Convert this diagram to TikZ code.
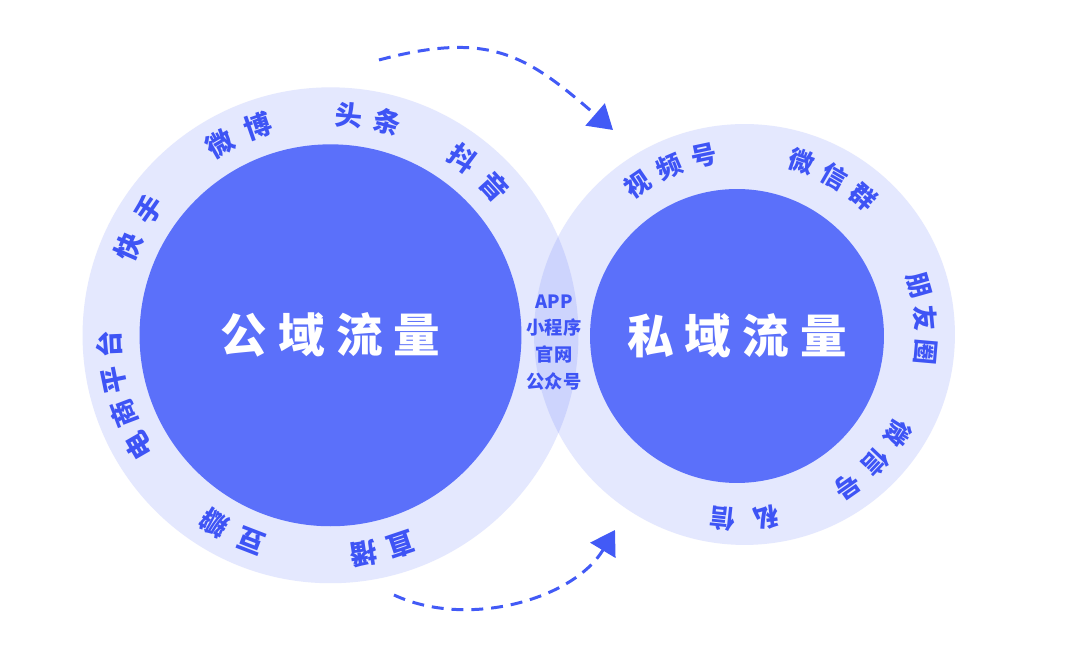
\documentclass[tikz,border=0pt]{standalone}
\usepackage{fontspec}
\setmainfont{Noto Sans CJK SC}
\usepackage{tikz}
\usetikzlibrary{arrows.meta}
\definecolor{FlowBlue}{RGB}{91,112,250}
\definecolor{TagBlue}{RGB}{62,84,245}
\definecolor{ArrowBlue}{RGB}{66,90,246}
\newcommand\wgap{\hspace{0.24em}}

\begin{document}
\begin{tikzpicture}[x=0.02cm,y=0.02cm,
  ring/.style={circle,fill=FlowBlue,fill opacity=0.16,inner sep=0pt,outer sep=0pt},
  core/.style={circle,fill=FlowBlue,inner sep=0pt,outer sep=0pt,
               text=white,font=\fontsize{26.5}{26.5}\selectfont\bfseries},
  tag/.style={text=TagBlue,font=\fontsize{15.5}{15.5}\selectfont\bfseries,inner sep=0pt},
  ptag/.style={tag,font=\fontsize{14.5}{14.5}\selectfont\bfseries},
  lens/.style={text=TagBlue,align=center,font=\fontsize{10.4}{15.3}\selectfont\bfseries,inner sep=0pt},
  flow/.style={ArrowBlue,line width=1.7pt,dash pattern=on 6.8pt off 4.5pt,
               -{Triangle[length=13.5pt,width=16.5pt]}},
]
\fill[white] (0,0) rectangle (1080,665);
\useasboundingbox (0,0) rectangle (1080,665);

% rings
\node[ring,minimum size=9.92cm] (pubring) at (330.5,329.7) {};
\node[ring,minimum size=8.42cm] (privring) at (744.5,330.5) {};
\node[core,minimum size=7.64cm] (pubcore) at (330.5,329.7) {公\wgap 域\wgap 流\wgap 量};
\node[core,minimum size=5.88cm] (privcore) at (737,329) {私\wgap 域\wgap 流\wgap 量};

% channels in the overlap
\node[lens] (channels) at (554,322.5) {APP\\小程序\\官网\\公众号};

% labels round the rings
\foreach \ch/\a [count=\i] in {电/210,商/200.8,平/191.6,台/182.4,快/156.3,手/145.2,
    微/120.1,博/109.2,头/85.1,条/75.1,抖/53.2,音/42.3,直/288.6,播/278.5,豆/248.9,瓣/238.3}
  \node[tag,rotate=\a-90] (pubtag\i) at ([shift={(\a:221)}]pubring.center) {\ch};
\foreach \ch/\a [count=\i] in {视/124.5,频/113.3,号/101.9,微/71.2,信/60,群/48.8,
    朋/15.8,友/5.3,圈/-5,微/-32.2,信/-43.5,号/-55,私/-82.6,信/-96}
  \node[ptag,rotate=\a-90] (privtag\i) at ([shift={(\a:184)}]742,329.5) {\ch};

% flow arrows
\coordinate (topfrom) at (379,605);
\coordinate (topto) at (613,535);
\coordinate (lowfrom) at (394,70);
\coordinate (lowto) at (615,135);
\draw[flow] (topfrom) to[out=15,in=139,looseness=1.2] (topto);
\draw[flow] (lowfrom) to[out=-25,in=-121,looseness=0.9] (lowto);
\end{tikzpicture}
\end{document}
